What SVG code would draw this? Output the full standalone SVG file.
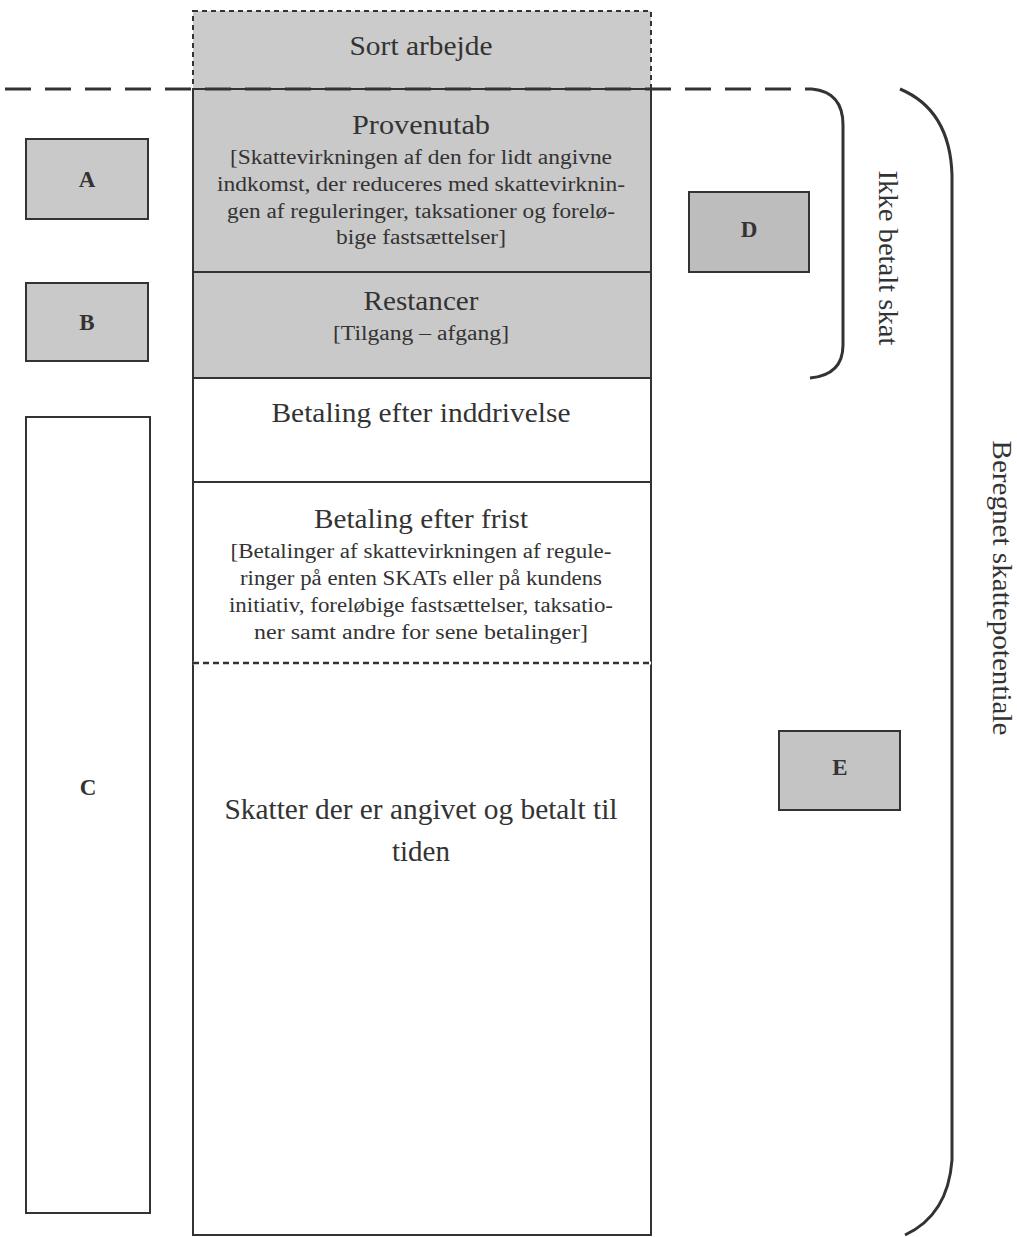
<svg xmlns="http://www.w3.org/2000/svg" width="1017" height="1237" viewBox="0 0 1017 1237">
<style>
text{font-family:"Liberation Serif","Times New Roman",serif;fill:#333;text-anchor:middle}
.t{font-size:27px}
.s{font-size:20px}
.l{font-size:23px;font-weight:bold}
.g{fill:#c9c9c9;stroke:#333;stroke-width:2}
.w{fill:#fff;stroke:#333;stroke-width:2}
.br{fill:none;stroke:#333;stroke-width:3}
</style>
<rect width="1017" height="1237" fill="#fff"/>
<g id="sort">
<rect x="193" y="11" width="458" height="78" fill="#cbcbcb" stroke="#333" stroke-width="2" stroke-dasharray="5,4"/>
<text class="t" x="421" y="55" textLength="143" lengthAdjust="spacingAndGlyphs">Sort arbejde</text>
</g>
<g id="provenutab">
<rect class="g" x="193" y="89" width="458" height="183"/>
<text class="t" x="421" y="134" textLength="138" lengthAdjust="spacingAndGlyphs">Provenutab</text>
<text class="s" x="421" y="164" textLength="382" lengthAdjust="spacingAndGlyphs">[Skattevirkningen af den for lidt angivne</text>
<text class="s" x="421" y="191" textLength="408" lengthAdjust="spacingAndGlyphs">indkomst, der reduceres med skattevirknin-</text>
<text class="s" x="421" y="218" textLength="388" lengthAdjust="spacingAndGlyphs">gen af reguleringer, taksationer og forelø-</text>
<text class="s" x="421" y="244" textLength="170" lengthAdjust="spacingAndGlyphs">bige fastsættelser]</text>
</g>
<g id="restancer">
<rect class="g" x="193" y="272" width="458" height="106"/>
<text class="t" x="421" y="310" textLength="115" lengthAdjust="spacingAndGlyphs">Restancer</text>
<text class="s" x="421" y="340" textLength="176" lengthAdjust="spacingAndGlyphs">[Tilgang – afgang]</text>
</g>
<g id="inddrivelse">
<rect class="w" x="193" y="378" width="458" height="104"/>
<text class="t" x="421" y="422" textLength="299" lengthAdjust="spacingAndGlyphs">Betaling efter inddrivelse</text>
</g>
<g id="frist">
<rect x="193" y="482" width="458" height="181" fill="#fff" stroke="#333" stroke-width="2"/>
<text class="t" x="421" y="528" textLength="214" lengthAdjust="spacingAndGlyphs">Betaling efter frist</text>
<text class="s" x="421" y="558" textLength="381" lengthAdjust="spacingAndGlyphs">[Betalinger af skattevirkningen af regule-</text>
<text class="s" x="421" y="585" textLength="362" lengthAdjust="spacingAndGlyphs">ringer på enten SKATs eller på kundens</text>
<text class="s" x="421" y="612" textLength="384" lengthAdjust="spacingAndGlyphs">initiativ, foreløbige fastsættelser, taksatio-</text>
<text class="s" x="421" y="639" textLength="334" lengthAdjust="spacingAndGlyphs">ner samt andre for sene betalinger]</text>
</g>
<g id="tiden">
<rect x="193" y="663" width="458" height="572" fill="#fff" stroke="#333" stroke-width="2"/>
<line x1="193" y1="663" x2="651" y2="663" stroke="#fff" stroke-width="3"/>
<line x1="193" y1="663" x2="651" y2="663" stroke="#333" stroke-width="2.5" stroke-dasharray="6,4"/>
<text x="421" y="819" font-size="29" textLength="393" lengthAdjust="spacingAndGlyphs">Skatter der er angivet og betalt til</text>
<text x="421" y="861" font-size="29">tiden</text>
</g>
<g id="A"><rect class="g" x="26" y="139" width="122" height="80"/><text class="l" x="87" y="187">A</text></g>
<g id="B"><rect class="g" x="26" y="283" width="122" height="78"/><text class="l" x="87" y="330">B</text></g>
<g id="C"><rect class="w" x="26" y="417" width="124" height="796"/><text class="l" x="88" y="795">C</text></g>
<g id="D"><rect x="689" y="192" width="120" height="80" fill="#bdbdbd" stroke="#333" stroke-width="2"/><text class="l" x="749" y="237" font-size="20">D</text></g>
<g id="E"><rect x="779" y="731" width="121" height="79" fill="#c4c4c4" stroke="#333" stroke-width="2"/><text class="l" x="840" y="775" font-size="20">E</text></g>
<g id="connectors">
<line x1="5" y1="89" x2="812" y2="89" stroke="#333" stroke-width="3" stroke-dasharray="26,14"/>
<path class="br" d="M812,89 Q843,92 843,125 L843,345 Q843,375 810,378"/>
<path class="br" d="M900,89 Q950,110 952,175 L952,1160 Q948,1215 905,1235"/>
</g>
<g id="labels">
<text class="t" transform="translate(879,258) rotate(90)" textLength="175" lengthAdjust="spacingAndGlyphs">Ikke betalt skat</text>
<text class="t" transform="translate(993,588) rotate(90)" textLength="295" lengthAdjust="spacingAndGlyphs">Beregnet skattepotentiale</text>
</g>
</svg>
